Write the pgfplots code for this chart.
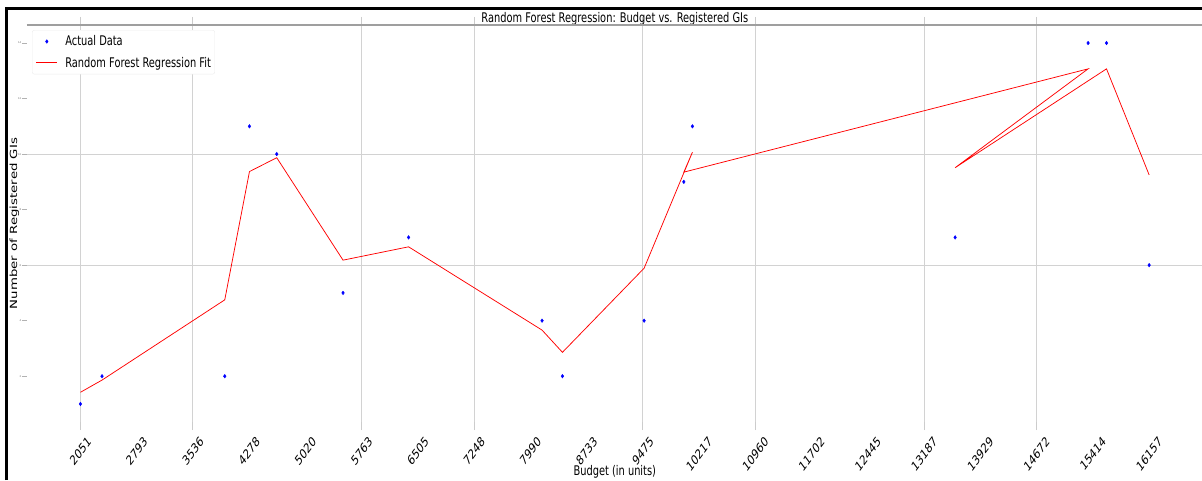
\documentclass[border=0pt]{standalone}
\usepackage{pgfplots}
\pgfplotsset{compat=1.18}
\usepackage{fontspec}
\usepackage{graphicx}
\setmainfont{DejaVu Sans}
\newfontfamily\sq{DejaVu Sans}[FakeStretch=0.74]
\newcommand\fs{\fontsize{13.3}{16}\selectfont}
\newcommand\xl[1]{\scalebox{0.74}[1]{\rotatebox{45}{\fs #1}}}

\pgfplotsset{
  linelegend/.style={legend image code/.code={\draw[##1] (0pt,0pt) -- (21pt,0pt);}},
  dotlegend/.style={legend image code/.code={\draw[##1] plot coordinates {(10.5pt,0pt)};}},
}

\pgfplotstableread{
x y
2051 1
2336 2
3956 2
4282 11
4642 10
5517 5
6382 7
8144 4
8413 2
9491 4
10015 9
10129 11
13596 7
15351 14
15594 14
16157 6
}\actual

\pgfplotstableread{
x y
2051 1.42
2336 1.86
3956 4.75
4282 9.37
4642 9.87
5517 6.18
6382 6.66
8144 3.66
8413 2.86
9491 5.89
10129 10.07
10015 9.35
15351 13.07
13596 9.51
15594 13.07
16157 9.25
}\fit

\begin{document}
\begin{tikzpicture}
\begin{axis}[
  scale only axis, width=1175.6pt, height=397pt,
  xmin=1345.7, xmax=16862.3, ymin=0.35, ymax=14.65,
  scaled x ticks=false, scaled y ticks=false,
  axis line style={draw=none},
  tick align=outside,
  major tick length=5pt,
  xtick={2051,2793.42,3535.84,4278.26,5020.68,5763.11,6505.53,7247.95,7990.37,8732.79,9475.21,10217.63,10960.05,11702.47,12444.89,13187.32,13929.74,14672.16,15414.58,16157},
  xticklabels={\xl{2051},\xl{2793},\xl{3536},\xl{4278},\xl{5020},\xl{5763},\xl{6505},\xl{7248},\xl{7990},\xl{8733},\xl{9475},\xl{10217},\xl{10960},\xl{11702},\xl{12445},\xl{13187},\xl{13929},\xl{14672},\xl{15414},\xl{16157}},
  xtick style={draw=none},
  x tick label style={anchor=north, inner sep=0pt, yshift=-8pt},
  extra x ticks={2051,3535.84,5763.11,7247.95,9475.21,10960.05,13187.32,14672.16},
  extra x tick labels={},
  extra x tick style={grid=major, major tick length=8pt, xtick style={draw=gray!40, line width=1pt}},
  ytick={2,4,6,8,10,12,14},
  yticklabels={2,4,6,8,10,12,14},
  y tick label style={font=\fontsize{2.5}{3}\selectfont, text=black!60, inner sep=0.6pt},
  ytick style={draw=gray!60, line width=0.6pt},
  extra y ticks={6,10},
  extra y tick labels={},
  extra y tick style={grid=major},
  major grid style={gray!35, line width=1pt},
  title={Random Forest Regression: Budget vs. Registered GIs},
  title style={at={(axis description cs:0.5,1)}, anchor=base, yshift=-3.5pt, font=\sq\fs, inner sep=0pt},
  xlabel={Budget (in units)},
  xlabel style={at={(axis description cs:0.5,0)}, anchor=base, yshift=-53pt, font=\sq\fs, inner sep=0pt},
  ylabel={\scalebox{1}[0.74]{Number of Registered GIs}},
  ylabel style={at={(axis description cs:-0.0085,0.5)}, anchor=base, font=\fs, inner sep=0pt},
  legend style={at={(axis description cs:0.0043,0.9874)}, anchor=north west, draw=gray!15, fill=white, font=\sq\fs, inner xsep=3.7pt, inner ysep=5.5pt, row sep=9.7pt, column sep=7.6pt, nodes={inner sep=0pt}, rounded corners=2pt},
  legend cell align=left,
]
\addplot[only marks, mark=*, mark size=1.8pt, color=blue, mark options={xscale=0.74, draw=blue, fill=blue}, dotlegend] table[x=x,y=y] {\actual};
\addlegendentry{Actual Data}
\addplot[red, line width=0.75pt, mark=none, linelegend] table[x=x,y=y] {\fit};
\addlegendentry{Random Forest Regression Fit}
\coordinate (O) at (rel axis cs:0,0);
\end{axis}
\draw[gray!75, line width=1.5pt] ([shift={(0pt,397pt)}]O) -- ++(1175pt,0pt);
\draw[black, line width=2.2pt] ([shift={(-20.5pt,-58pt)}]O) -- ++(0pt,471.5pt) -- ++(1195.5pt,0pt);
\pgfresetboundingbox
\path[use as bounding box] ([shift={(-27pt,-58pt)}]O) rectangle ++(1202pt,480pt);
\end{tikzpicture}
\end{document}
